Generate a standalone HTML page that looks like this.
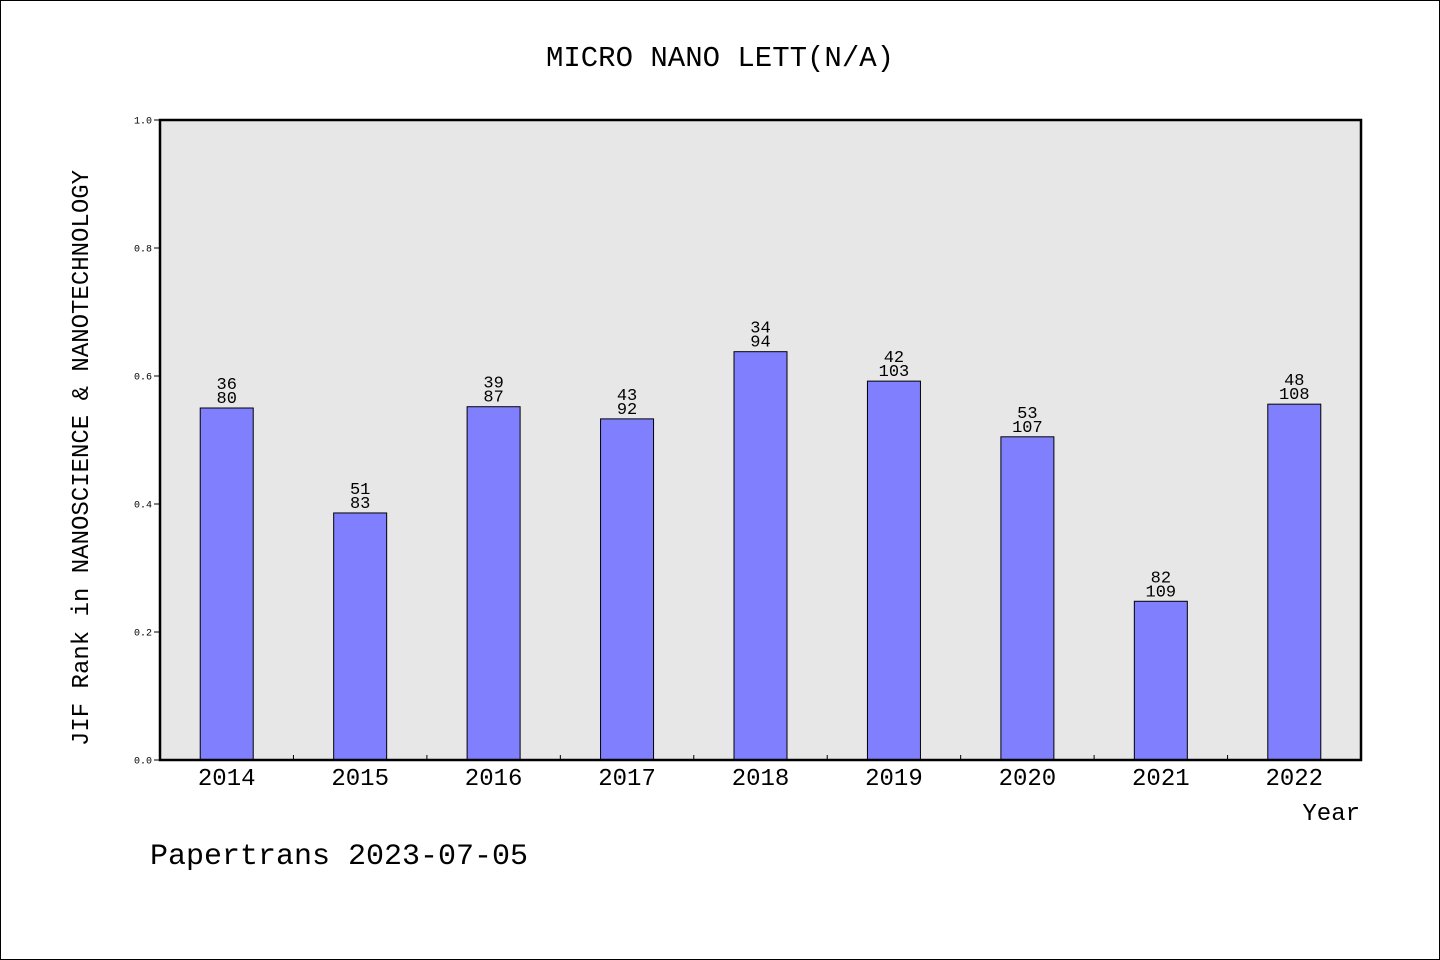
<!DOCTYPE html>
<html><head><meta charset="utf-8"><style>
html,body{margin:0;padding:0;background:#fff}
svg{display:block}
text{font-family:"Liberation Mono","WenQuanYi Zen Hei",monospace;fill:#000}
</style></head><body>
<svg id="chart" width="1440" height="960" viewBox="0 0 1440 960" xmlns="http://www.w3.org/2000/svg">
<rect x="0.5" y="0.5" width="1439" height="959" fill="#fff" stroke="#000" stroke-width="1"/>
<text x="720" y="66" font-size="29" text-anchor="middle">MICRO NANO LETT(N/A)</text>
<rect x="160" y="120" width="1201" height="640" fill="#e7e7e7"/>
<g id="bars"></g>
<g id="axes"></g>
<rect x="160" y="120" width="1201" height="640" fill="none" stroke="#000" stroke-width="2.5"/>
<text transform="translate(88,458) rotate(-90)" font-size="24" text-anchor="middle">JIF Rank in NANOSCIENCE &amp; NANOTECHNOLOGY</text>
<text x="1360" y="820" font-size="24" text-anchor="end">Year</text>
<text x="150" y="864" font-size="30">Papertrans 2023-07-05</text>
</svg>
<script>
const categories = ["2014","2015","2016","2017","2018","2019","2020","2021","2022"];
const values = [0.55, 0.386, 0.552, 0.533, 0.638, 0.592, 0.505, 0.248, 0.556];
const ranks = [36, 51, 39, 43, 34, 42, 53, 82, 48];
const totals = [80, 83, 87, 92, 94, 103, 107, 109, 108];
const yTicks = ["0.0","0.2","0.4","0.6","0.8","1.0"];

const NS = "http://www.w3.org/2000/svg";
const X0 = 160, X1 = 1361, Y0 = 760, Y1 = 120;
const band = (X1 - X0) / categories.length;
const xCenter = i => X0 + band * (i + 0.5);
const yScale = v => Y0 - (v / 1.0) * (Y0 - Y1);
const barW = 53;
function mk(tag, attrs, parent) {
  const e = document.createElementNS(NS, tag);
  for (const k in attrs) e.setAttribute(k, attrs[k]);
  parent.appendChild(e);
  return e;
}
const bars = document.getElementById("bars");
const axes = document.getElementById("axes");
categories.forEach((c, i) => {
  const cx = xCenter(i), y = yScale(values[i]);
  const r = mk("rect", {x: cx - barW / 2, y: y, width: barW, height: Y0 - y, fill: "#8080ff", stroke: "#000", "stroke-width": 1}, bars);
  
  
  const t1 = mk("text", {x: cx, y: y - 19, "font-size": 17, "text-anchor": "middle"}, bars);
  t1.textContent = ranks[i];
  
  
  const t2 = mk("text", {x: cx, y: y - 5, "font-size": 17, "text-anchor": "middle"}, bars);
  t2.textContent = totals[i];
  
  
  const xl = mk("text", {x: cx, y: 785, "font-size": 24, "text-anchor": "middle"}, axes);
  xl.textContent = c;
  
  
  if (i > 0) {
    const bx = X0 + band * i;
    const tk = mk("line", {x1: bx, x2: bx, y1: Y0, y2: Y0 - 5, stroke: "#000", "stroke-width": 1}, axes);
    
    
  }
});
yTicks.forEach(t => {
  const y = yScale(parseFloat(t));
  const tk = mk("line", {x1: X0 - 6, x2: X0, y1: y, y2: y, stroke: "#000", "stroke-width": 1}, axes);
  
  
  const tl = mk("text", {x: 152, y: y + 3.5, "font-size": 10, "text-anchor": "end"}, axes);
  tl.textContent = t;
  
  
});
</script>
</body></html>
